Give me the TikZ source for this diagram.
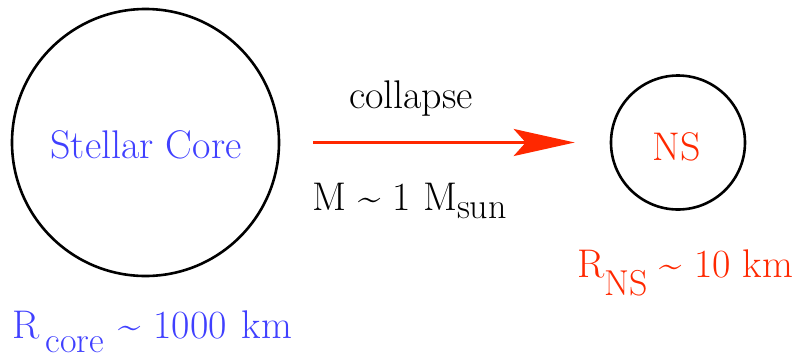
\documentclass[tikz,border=0pt]{standalone}
\usetikzlibrary{arrows.meta}
\definecolor{nsred}{RGB}{255,40,0}
\definecolor{coreblue}{RGB}{64,64,255}
\newcommand{\bigtext}{\rmfamily\fontsize{40}{48}\selectfont}
\newcommand{\subtext}[2]{\raisebox{#1}{\rmfamily\fontsize{36}{40}\selectfont #2}}
\begin{document}
\begin{tikzpicture}[x=1pt,y=-1pt,
  starcircle/.style={draw=black, line width=2.6pt, circle, inner sep=0pt},
  txt/.style={inner sep=0pt, font=\bigtext},
  arr/.style={draw=nsred, line width=2.8pt, -{Stealth[length=61pt,width=27pt,inset=12pt]}}]
\useasboundingbox (0,0) rectangle (796,360);
\node[starcircle, minimum size=267pt] (core) at (145.5,142.5) {};
\node[starcircle, minimum size=134pt] (ns) at (678,142.5) {};
\node[txt, text=coreblue, anchor=base] (corelabel) at (146,158) {Stellar Core};
\node[txt, text=nsred, anchor=base] (nslabel) at (677,160) {NS};
\draw[arr, shorten <=33pt, shorten >=35pt] (core) -- (ns);
\node[txt, anchor=base] (collapse) at (411,108) {collapse};
\node[txt, anchor=base west] (mass) at (312,210) {M \char`\~{} 1 M\subtext{-8pt}{sun}};
\node[txt, text=nsred, anchor=base west] (rns) at (577,277) {R\subtext{-18pt}{NS} \char`\~{} 10 km};
\node[txt, text=coreblue, anchor=base west] (rcore) at (12,338) {R\kern6pt\subtext{-14pt}{core}\kern3pt{} \char`\~{} 1000\kern3pt{} km};
\end{tikzpicture}
\end{document}
